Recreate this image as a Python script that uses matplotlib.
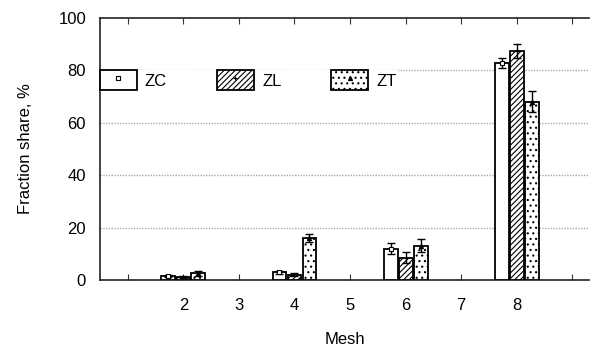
import numpy as np
import matplotlib.pyplot as plt
from matplotlib.lines import Line2D
from matplotlib.patches import Patch

plt.rcParams['font.family'] = ['Liberation Sans', 'DejaVu Sans']
plt.rcParams['hatch.linewidth'] = 0.8

mesh = [2, 3, 4, 5, 6, 7, 8]
zc = [1.5, 0, 3.0, 0, 12.0, 0, 82.8]
zl = [1.0, 0, 2.0, 0, 8.5, 0, 87.4]
zt = [2.5, 0, 16.0, 0, 13.0, 0, 68.0]
zc_err = [0.5, 0, 0.6, 0, 2.0, 0, 2.0]
zl_err = [0.4, 0, 0.5, 0, 2.0, 0, 2.5]
zt_err = [1.0, 0, 1.5, 0, 2.5, 0, 4.0]

fig = plt.figure(figsize=(5.95, 3.51), dpi=100)
ax = fig.add_axes([0.168, 0.2023, 0.822, 0.7464])

x = np.array(mesh)
w = 0.25
d = 0.27
series = [(zc, zc_err, '', 'ZC', 's'), (zl, zl_err, '//////', 'ZL', '+'),
          (zt, zt_err, '...', 'ZT', '^')]
handles = []
for i, (vals, err, hatch, lab, mk) in enumerate(series):
    xs = x + (i - 1) * d
    v = np.array(vals)
    e = np.array(err)
    m = v > 0
    ax.bar(xs[m], v[m], w, color='white', edgecolor='black', linewidth=1.3,
           hatch=hatch, zorder=3)
    ax.errorbar(xs[m], v[m], yerr=e[m], fmt='none', ecolor='black',
                elinewidth=1, capsize=3, capthick=1, zorder=4)
    ax.plot(xs[m], v[m], linestyle='none', marker=mk, markersize=3,
            markerfacecolor='white' if mk == 's' else 'black',
            markeredgecolor='black', markeredgewidth=0.8, zorder=5)
    p = Patch(facecolor='white', edgecolor='black', linewidth=1.3, hatch=hatch)
    l = Line2D([], [], linestyle='none', marker=mk, markersize=3,
               markerfacecolor='white' if mk == 's' else 'black',
               markeredgecolor='black', markeredgewidth=0.8)
    handles.append((p, l))

ax.set_xlim(0.5, 9.3)
ax.set_ylim(0, 100)
ax.set_xticks(range(1, 10))
ax.set_xticklabels([''] + [str(m) for m in mesh] + [''])
ax.set_yticks([0, 20, 40, 60, 80, 100])
ax.tick_params(axis='x', direction='in', length=4, pad=13, labelsize=12,
               top=True, color='#333333')
ax.tick_params(axis='y', direction='in', length=0, pad=10, labelsize=12)
ax.yaxis.grid(True, color='#aaaaaa', linestyle=(0, (1, 1)), linewidth=1)
ax.get_ygridlines()[-1].set_visible(False)
ax.get_ygridlines()[0].set_visible(False)
ax.set_axisbelow(True)
ax.spines['right'].set_visible(False)
for s in ['top', 'left', 'bottom']:
    ax.spines[s].set_color('#222222')
    ax.spines[s].set_linewidth(1.2)

ax.set_xlabel('Mesh', fontsize=12, labelpad=14)
ax.set_ylabel('Fraction share, %', fontsize=12, labelpad=18)

leg = ax.legend(handles, ['ZC', 'ZL', 'ZT'], loc='upper left',
                bbox_to_anchor=(0.0, 0.8), ncol=3, frameon=True,
                edgecolor='white', framealpha=1, fancybox=False,
                handlelength=2.2, handleheight=1.4, columnspacing=3.0,
                handletextpad=0.5, borderpad=0.0, borderaxespad=0.0, fontsize=12)

plt.savefig('out.png', dpi=100)
